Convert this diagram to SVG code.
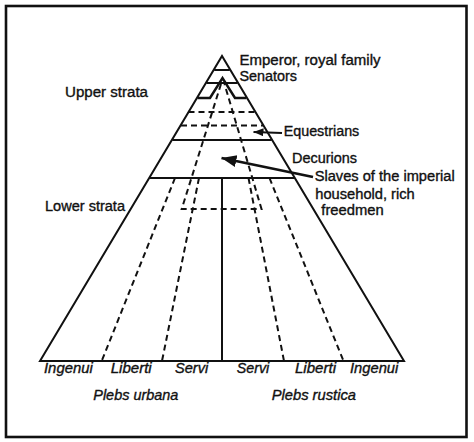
<svg xmlns="http://www.w3.org/2000/svg" width="474" height="442" viewBox="0 0 474 442">
  <defs>
    <style>
      .ln { fill: none; stroke: #111; stroke-width: 2; stroke-linejoin: miter; }
      .thick { fill: none; stroke: #111; stroke-width: 2.5; stroke-linejoin: miter; }
      .dash { fill: none; stroke: #111; stroke-width: 2; stroke-dasharray: 6 4; }
      .t { font-family: "Liberation Sans", Arial, Helvetica, sans-serif; font-size: 14px; fill: #111; stroke: #111; stroke-width: 0.35; }
      .it { font-style: italic; }
    </style>
    <marker id="headSmall" markerUnits="userSpaceOnUse" markerWidth="12" markerHeight="10" refX="10" refY="4" orient="auto">
      <path d="M0,0 L10,4 L0,8 Z" fill="#111"/>
    </marker>
    <marker id="headBig" markerUnits="userSpaceOnUse" markerWidth="18" markerHeight="14" refX="15" refY="6" orient="auto">
      <path d="M0,0 L15,6 L0,12 Z" fill="#111"/>
    </marker>
  </defs>

  <rect width="474" height="442" fill="#fff"/>
  <rect id="frame" x="6" y="6" width="460.5" height="431" fill="none" stroke="#111" stroke-width="2.6"/>

  <g id="pyramid">
    <path class="ln" d="M40,361 L222,56 L404,361 Z"/>
    <line class="ln" x1="214.2" y1="70" x2="229.8" y2="70"/>
    <line class="ln" x1="206.4" y1="83" x2="237.6" y2="83"/>
    <polyline class="thick" points="197.5,98 210,98 222.5,78 235,98 246.5,98"/>
    <line class="dash" x1="188.5" y1="112" x2="255.5" y2="112"/>
    <line class="dash" x1="181" y1="125.5" x2="263" y2="125.5"/>
    <line class="ln" x1="172.3" y1="140" x2="271.7" y2="140"/>
    <line class="ln" x1="149.6" y1="178" x2="294.4" y2="178"/>
    <line class="ln" x1="222" y1="178" x2="222" y2="361"/>
  </g>

  <g id="divisions">
    <polyline class="dash" points="221,84 181.7,209 261.5,209 224.5,84"/>
    <line class="dash" x1="175" y1="178" x2="101.7" y2="361"/>
    <line class="dash" x1="199" y1="178" x2="162" y2="361"/>
    <line class="dash" x1="248.5" y1="178" x2="284" y2="361"/>
    <line class="dash" x1="269.5" y1="178" x2="343.5" y2="361"/>
  </g>

  <g id="connectors">
    <line x1="282" y1="133" x2="253.5" y2="132" stroke="#111" stroke-width="1.8" marker-end="url(#headSmall)"/>
    <line x1="313" y1="177" x2="221.5" y2="158" stroke="#111" stroke-width="2.8" marker-end="url(#headBig)"/>
  </g>

  <g id="labels">
    <text class="t" x="239.5" y="64.7" textLength="141" lengthAdjust="spacingAndGlyphs">Emperor, royal family</text>
    <text class="t" x="239.5" y="81.3" textLength="57.5" lengthAdjust="spacingAndGlyphs">Senators</text>
    <text class="t" x="65" y="96.7" textLength="83" lengthAdjust="spacingAndGlyphs">Upper strata</text>
    <text class="t" x="283.7" y="136.3" textLength="75.6" lengthAdjust="spacingAndGlyphs">Equestrians</text>
    <text class="t" x="292" y="163" textLength="65" lengthAdjust="spacingAndGlyphs">Decurions</text>
    <text class="t" x="314.7" y="180.7" textLength="140" lengthAdjust="spacingAndGlyphs">Slaves of the imperial</text>
    <text class="t" x="315.3" y="198.7" textLength="99.4" lengthAdjust="spacingAndGlyphs">household, rich</text>
    <text class="t" x="321.3" y="214.7" textLength="62.4" lengthAdjust="spacingAndGlyphs">freedmen</text>
    <text class="t" x="45" y="211" textLength="80" lengthAdjust="spacingAndGlyphs">Lower strata</text>
    <text class="t it" x="44" y="373.3" textLength="48.7" lengthAdjust="spacingAndGlyphs">Ingenui</text>
    <text class="t it" x="110.7" y="373.3" textLength="41" lengthAdjust="spacingAndGlyphs">Liberti</text>
    <text class="t it" x="175" y="373.3" textLength="33.3" lengthAdjust="spacingAndGlyphs">Servi</text>
    <text class="t it" x="236.7" y="373.3" textLength="32.6" lengthAdjust="spacingAndGlyphs">Servi</text>
    <text class="t it" x="295" y="373.3" textLength="41" lengthAdjust="spacingAndGlyphs">Liberti</text>
    <text class="t it" x="350" y="373.3" textLength="48.3" lengthAdjust="spacingAndGlyphs">Ingenui</text>
    <text class="t it" x="93.3" y="400" textLength="85" lengthAdjust="spacingAndGlyphs">Plebs urbana</text>
    <text class="t it" x="271.7" y="400" textLength="84.3" lengthAdjust="spacingAndGlyphs">Plebs rustica</text>
  </g>
</svg>
